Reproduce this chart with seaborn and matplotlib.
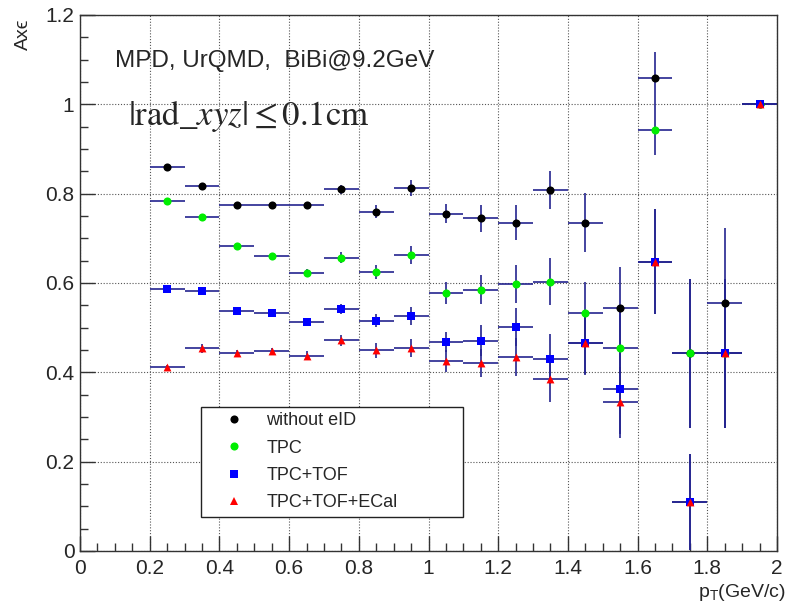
import matplotlib
matplotlib.use("Agg")
import matplotlib.pyplot as plt
import seaborn as sns
import pandas as pd
from matplotlib.lines import Line2D
from matplotlib.ticker import MultipleLocator, FuncFormatter

# ---------------- data ----------------
pt = [0.25, 0.35, 0.45, 0.55, 0.65, 0.75, 0.85, 0.95, 1.05,
      1.15, 1.25, 1.35, 1.45, 1.55, 1.65, 1.75, 1.85, 1.95]
pt_halfwidth = [0.05] * len(pt)

series = ["without eID", "TPC", "TPC+TOF", "TPC+TOF+ECal"]

y_noeid = [0.860, 0.817, 0.775, 0.775, 0.775, 0.810, 0.760, 0.812, 0.755,
           0.745, 0.735, 0.808, 0.735, 0.545, 1.058, 0.443, 0.555, 1.000]
e_noeid = [0.006, 0.006, 0.007, 0.007, 0.007, 0.010, 0.014, 0.018, 0.021,
           0.030, 0.039, 0.042, 0.066, 0.090, 0.060, 0.167, 0.168, 0.000]

y_tpc = [0.784, 0.748, 0.682, 0.660, 0.623, 0.657, 0.625, 0.663, 0.578,
         0.585, 0.598, 0.603, 0.533, 0.455, 0.942, 0.443, 0.443, 1.000]
e_tpc = [0.005, 0.006, 0.007, 0.007, 0.008, 0.012, 0.015, 0.020, 0.024,
         0.032, 0.043, 0.052, 0.070, 0.090, 0.056, 0.167, 0.167, 0.000]

y_tof = [0.586, 0.583, 0.538, 0.533, 0.513, 0.542, 0.516, 0.526, 0.468,
         0.471, 0.501, 0.430, 0.466, 0.363, 0.648, 0.110, 0.443, 1.000]
e_tof = [0.006, 0.007, 0.008, 0.008, 0.009, 0.012, 0.015, 0.021, 0.023,
         0.034, 0.043, 0.055, 0.070, 0.100, 0.117, 0.107, 0.167, 0.000]

y_ecal = [0.412, 0.454, 0.443, 0.447, 0.437, 0.472, 0.449, 0.454, 0.426,
          0.421, 0.434, 0.384, 0.465, 0.333, 0.648, 0.110, 0.443, 1.000]
e_ecal = [0.005, 0.010, 0.008, 0.008, 0.010, 0.012, 0.016, 0.020, 0.025,
          0.031, 0.043, 0.050, 0.070, 0.080, 0.117, 0.107, 0.167, 0.000]

values = [y_noeid, y_tpc, y_tof, y_ecal]
errors = [e_noeid, e_tpc, e_tof, e_ecal]

# ---------------- style ----------------
colors = ["#000000", "#00ee00", "#0000ff", "#ff0000"]
markers = ["o", "o", "s", "^"]
msizes = [34, 34, 28, 32]
ebar_color = "#24248f"

sns.set_theme(style="white")
plt.rcParams["font.family"] = ["Liberation Sans", "DejaVu Sans"]
plt.rcParams["mathtext.fontset"] = "custom"
plt.rcParams["mathtext.rm"] = "Liberation Sans"
plt.rcParams["mathtext.it"] = "Liberation Sans:italic"

fig = plt.figure(figsize=(7.9, 6.04), dpi=100)
ax = fig.add_axes([80 / 790, 1 - 551 / 604, 697 / 790, 536 / 604])

df = pd.DataFrame({
    "pt": pt * len(series),
    "A": sum(values, []),
    "err": sum(errors, []),
    "xerr": pt_halfwidth * len(series),
    "sel": [s for s in series for _ in pt],
})

for s in series:
    d = df[df["sel"] == s]
    ax.errorbar(d["pt"], d["A"], xerr=d["xerr"], yerr=d["err"], fmt="none",
                ecolor=ebar_color, elinewidth=1.2, capsize=0, zorder=2)

for s, c, m, ms in zip(series, colors, markers, msizes):
    d = df[df["sel"] == s]
    sns.scatterplot(data=d, x="pt", y="A", marker=m, color=c, s=ms,
                    linewidth=0, ax=ax, zorder=3, legend=False)

ax.set_xlim(0, 2)
ax.set_ylim(0, 1.2)
ax.xaxis.set_major_locator(MultipleLocator(0.2))
ax.xaxis.set_minor_locator(MultipleLocator(0.05))
ax.yaxis.set_major_locator(MultipleLocator(0.2))
ax.yaxis.set_minor_locator(MultipleLocator(0.05))
fmt = FuncFormatter(lambda v, p: "%g" % round(v, 3))
ax.xaxis.set_major_formatter(fmt)
ax.yaxis.set_major_formatter(fmt)
ax.tick_params(which="both", direction="in", bottom=True, left=True,
               top=False, right=False, color="#333333", width=1.0,
               labelsize=15)
ax.tick_params(axis="x", which="both", pad=6)
ax.tick_params(axis="y", which="both", pad=4)
ax.tick_params(which="major", length=11)
ax.tick_params(which="minor", length=6)

ax.grid(True, which="major", linestyle=(0, (1, 1.6)), linewidth=0.8,
        color="#555555")
ax.set_axisbelow(True)
for sp in ax.spines.values():
    sp.set_color("#333333")
    sp.set_linewidth(1.0)

ax.set_xlabel(r"p$_{\mathrm{T}}$(GeV/c)", fontsize=14, loc="right")
ax.xaxis.set_label_coords(1.013, -0.058)
ax.set_ylabel("Ax\u03f5", fontsize=14, loc="top")
ax.yaxis.set_label_coords(-0.069, 0.994)

ax.text(0.050, 0.9035, "MPD, UrQMD,  BiBi@9.2GeV", transform=ax.transAxes,
        fontsize=17.5, ha="left", va="baseline")
ax.text(0.069, 0.795, r"$|\mathrm{rad\_}xyz| \leq 0.1\mathrm{cm}$",
        transform=ax.transAxes, fontsize=25, ha="left", va="baseline",
        math_fontfamily="stix")

handles = [Line2D([], [], linestyle="none", marker=m, color=c,
                  markersize=ms ** 0.5, markeredgewidth=0)
           for c, m, ms in zip(colors, markers, msizes)]
leg = ax.legend(handles, series, loc="upper left",
                bbox_to_anchor=(0.1736, 0.0, 0.3759, 0.2687), mode="expand",
                borderaxespad=0, fontsize=13, frameon=True, fancybox=False,
                edgecolor="#222222", framealpha=1, borderpad=0.3,
                handlelength=3.07, handletextpad=0.24, labelspacing=0.57)
leg.get_frame().set_linewidth(1.0)

fig.savefig("out.png", dpi=100)
